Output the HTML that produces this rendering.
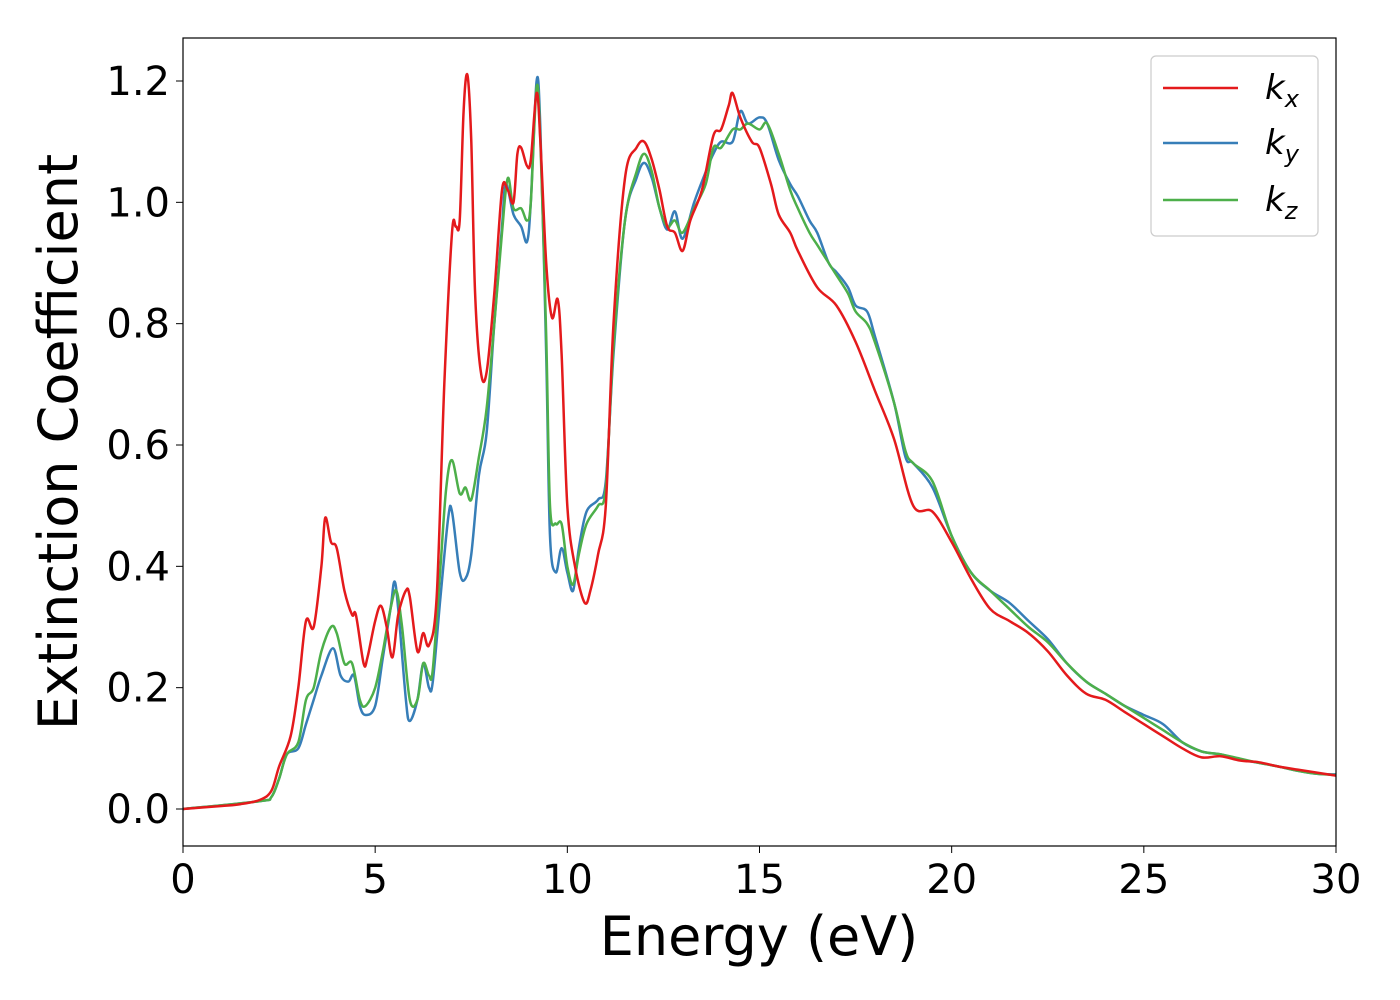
<!DOCTYPE html>
<html><head><meta charset="utf-8"><style>
body{margin:0;background:#fff;}
svg{display:block;font-family:"DejaVu Sans","Liberation Sans",sans-serif;}
</style></head><body>
<svg id="chart" width="1400" height="1000" viewBox="0 0 1400 1000">
<rect width="1400" height="1000" fill="#fff"/>
<g id="series"></g>
<rect x="183" y="38" width="1153" height="808" fill="none" stroke="#000" stroke-width="1.2"/>
<g id="xticks"></g>
<g id="yticks"></g>
<text x="759" y="955" font-size="54" text-anchor="middle">Energy (eV)</text>
<text transform="translate(77,442) rotate(-90)" font-size="54" text-anchor="middle">Extinction Coefficient</text>
<g>
<rect x="1151" y="56" width="167" height="180" rx="5" fill="#fff" stroke="#ccc" stroke-width="1.2"/>
<line x1="1163" x2="1238" y1="88" y2="88" stroke="#e41a1c" stroke-width="2.5"/>
<line x1="1163" x2="1238" y1="143" y2="143" stroke="#377eb8" stroke-width="2.5"/>
<line x1="1163" x2="1238" y1="200" y2="200" stroke="#4daf4a" stroke-width="2.5"/>
<text x="1265" y="99" font-size="34" font-style="italic">k<tspan font-size="24" dy="8">x</tspan></text>
<text x="1265" y="154" font-size="34" font-style="italic">k<tspan font-size="24" dy="8">y</tspan></text>
<text x="1265" y="211" font-size="34" font-style="italic">k<tspan font-size="24" dy="8">z</tspan></text>
</g>
</svg>
<script>
const xTicks=[0,5,10,15,20,25,30];
const yTicks=[0.0,0.2,0.4,0.6,0.8,1.0,1.2];
const kxE=[0,1,1.5,2,2.3,2.5,2.8,3.0,3.2,3.4,3.6,3.7,3.85,4.0,4.2,4.4,4.5,4.7,4.8,5.0,5.15,5.3,5.45,5.6,5.8,5.9,6.1,6.25,6.4,6.6,6.8,7.0,7.1,7.2,7.3,7.4,7.5,7.6,7.75,7.9,8.1,8.3,8.45,8.6,8.7,8.8,8.95,9.05,9.2,9.3,9.45,9.6,9.75,9.85,10.0,10.2,10.45,10.6,10.8,11.0,11.2,11.5,11.8,12.0,12.2,12.4,12.6,12.8,13.0,13.2,13.5,13.8,14.0,14.2,14.3,14.5,14.8,15.0,15.3,15.5,15.8,16.0,16.5,17.0,17.5,18.0,18.5,19.0,19.5,20.0,20.5,21.0,21.5,22.0,22.5,23.0,23.5,24.0,24.5,25.0,25.5,26.0,26.5,27,27.5,28,28.5,29,29.5,30];
const kxV=[0,0.005,0.008,0.015,0.03,0.07,0.12,0.2,0.31,0.3,0.4,0.48,0.44,0.43,0.36,0.32,0.32,0.24,0.25,0.31,0.335,0.3,0.25,0.32,0.36,0.35,0.26,0.29,0.27,0.35,0.7,0.95,0.96,0.97,1.15,1.21,1.1,0.85,0.72,0.72,0.85,1.02,1.02,1.0,1.08,1.09,1.06,1.07,1.18,1.1,0.9,0.81,0.84,0.75,0.5,0.4,0.34,0.36,0.42,0.5,0.8,1.04,1.09,1.1,1.07,1.02,0.96,0.95,0.92,0.97,1.02,1.11,1.12,1.16,1.18,1.14,1.1,1.09,1.03,0.98,0.95,0.92,0.86,0.83,0.77,0.69,0.61,0.5,0.49,0.44,0.38,0.33,0.31,0.29,0.26,0.22,0.19,0.18,0.16,0.14,0.12,0.1,0.085,0.087,0.08,0.077,0.07,0.065,0.06,0.055];
const kyE=[0,2,2.3,2.5,2.7,3.0,3.2,3.4,3.6,3.9,4.1,4.3,4.45,4.6,4.75,5.0,5.2,5.4,5.5,5.6,5.8,5.9,6.1,6.25,6.4,6.5,6.7,6.9,7.0,7.2,7.35,7.5,7.7,7.9,8.1,8.3,8.4,8.6,8.8,8.95,9.05,9.2,9.3,9.45,9.55,9.7,9.85,10.0,10.15,10.3,10.5,10.8,11.0,11.2,11.5,11.8,12.0,12.2,12.4,12.6,12.8,13.0,13.3,13.6,13.8,14.0,14.3,14.5,14.7,15.0,15.2,15.5,15.8,16.0,16.3,16.5,16.8,17.0,17.3,17.5,17.8,18.0,18.5,18.8,19.0,19.5,20.0,20.5,21.0,21.5,22.0,22.5,23.0,23.5,24,24.5,25,25.5,26,26.5,27,27.5,28,28.5,29,29.5,30];
const kyV=[0,0.013,0.02,0.05,0.09,0.1,0.14,0.18,0.22,0.265,0.22,0.21,0.22,0.17,0.155,0.17,0.25,0.33,0.375,0.33,0.18,0.145,0.18,0.24,0.2,0.21,0.35,0.48,0.49,0.39,0.38,0.42,0.55,0.62,0.8,0.96,1.03,0.98,0.96,0.935,1.0,1.2,1.12,0.75,0.45,0.39,0.43,0.39,0.36,0.43,0.49,0.51,0.54,0.75,0.97,1.04,1.065,1.04,0.99,0.955,0.985,0.94,1.0,1.05,1.08,1.1,1.1,1.15,1.13,1.14,1.13,1.07,1.03,1.01,0.97,0.95,0.9,0.885,0.86,0.83,0.82,0.78,0.67,0.58,0.57,0.53,0.45,0.39,0.36,0.34,0.31,0.28,0.24,0.21,0.19,0.17,0.155,0.14,0.11,0.095,0.09,0.082,0.076,0.07,0.063,0.058,0.057];
const kzE=[0,2,2.3,2.5,2.7,3.0,3.2,3.4,3.6,3.85,4.0,4.2,4.4,4.6,4.75,5.0,5.2,5.4,5.55,5.7,5.9,6.1,6.25,6.4,6.5,6.7,6.85,7.0,7.2,7.35,7.5,7.7,7.9,8.1,8.3,8.45,8.6,8.8,8.95,9.05,9.2,9.3,9.45,9.55,9.7,9.85,10.0,10.15,10.3,10.5,10.8,11.0,11.2,11.5,11.8,12.0,12.2,12.4,12.6,12.8,13.0,13.3,13.6,13.8,14.0,14.3,14.5,14.7,15.0,15.2,15.5,15.8,16.0,16.3,16.5,16.8,17.0,17.3,17.5,17.8,18.0,18.5,18.8,19.0,19.5,20.0,20.5,21.0,21.5,22.0,22.5,23.0,23.5,24,24.5,25,25.5,26,26.5,27,27.5,28,28.5,29,29.5,30];
const kzV=[0,0.013,0.02,0.05,0.09,0.11,0.18,0.2,0.26,0.3,0.29,0.24,0.24,0.18,0.17,0.2,0.26,0.33,0.36,0.3,0.18,0.18,0.24,0.22,0.23,0.4,0.53,0.575,0.52,0.53,0.51,0.58,0.66,0.8,0.95,1.04,0.99,0.99,0.97,1.0,1.19,1.1,0.78,0.5,0.47,0.47,0.4,0.37,0.42,0.47,0.5,0.53,0.76,0.97,1.05,1.08,1.05,0.99,0.96,0.97,0.95,0.99,1.03,1.09,1.09,1.12,1.12,1.13,1.12,1.13,1.08,1.02,0.99,0.95,0.93,0.9,0.88,0.85,0.82,0.8,0.77,0.67,0.59,0.57,0.54,0.45,0.39,0.36,0.33,0.3,0.275,0.24,0.21,0.19,0.17,0.15,0.13,0.11,0.095,0.09,0.083,0.076,0.07,0.063,0.058,0.056];

const x0=183,x1=1336,yZero=809,yPer=(809-81)/1.2;
const xs=v=>x0+(v/30)*(x1-x0);
const ys=v=>yZero-v*yPer;
const NS='http://www.w3.org/2000/svg';

function pathFrom(E,V){
  const p=E.map((e,i)=>[xs(e),ys(V[i])]);
  let d='M'+p[0][0].toFixed(1)+','+p[0][1].toFixed(1);
  for(let i=0;i<p.length-1;i++){
    const a=p[Math.max(0,i-1)],b=p[i],c=p[i+1],e=p[Math.min(p.length-1,i+2)];
    const c1=[b[0]+(c[0]-a[0])/6,b[1]+(c[1]-a[1])/6];
    const c2=[c[0]-(e[0]-b[0])/6,c[1]-(e[1]-b[1])/6];
    d+='C'+c1[0].toFixed(1)+','+c1[1].toFixed(1)+' '+c2[0].toFixed(1)+','+c2[1].toFixed(1)+' '+c[0].toFixed(1)+','+c[1].toFixed(1);
  }
  return d;
}
const g=document.getElementById('series');
[[kyE,kyV,'#377eb8','series-ky'],[kzE,kzV,'#4daf4a','series-kz'],[kxE,kxV,'#e41a1c','series-kx']].forEach(s=>{
  const el=document.createElementNS(NS,'path');
  el.setAttribute('d',pathFrom(s[0],s[1]));
  el.setAttribute('fill','none');
  el.setAttribute('stroke',s[2]);
  el.setAttribute('stroke-width','2.5');
  
  
  g.appendChild(el);
});
const xg=document.getElementById('xticks');
xTicks.forEach(t=>{
  const l=document.createElementNS(NS,'line');
  l.setAttribute('x1',xs(t));l.setAttribute('x2',xs(t));l.setAttribute('y1',846);l.setAttribute('y2',853);
  l.setAttribute('stroke','#000');
  
  
  xg.appendChild(l);
  const tx=document.createElementNS(NS,'text');
  tx.setAttribute('x',xs(t));tx.setAttribute('y',893);tx.setAttribute('font-size','40');tx.setAttribute('text-anchor','middle');
  tx.textContent=t;
  
  
  xg.appendChild(tx);
});
const yg=document.getElementById('yticks');
yTicks.forEach(t=>{
  const l=document.createElementNS(NS,'line');
  l.setAttribute('x1',176);l.setAttribute('x2',183);l.setAttribute('y1',ys(t));l.setAttribute('y2',ys(t));
  l.setAttribute('stroke','#000');
  
  
  yg.appendChild(l);
  const tx=document.createElementNS(NS,'text');
  tx.setAttribute('x',170);tx.setAttribute('y',ys(t)+14);tx.setAttribute('font-size','40');tx.setAttribute('text-anchor','end');
  tx.textContent=t.toFixed(1);
  
  
  yg.appendChild(tx);
});
</script>
</body></html>
